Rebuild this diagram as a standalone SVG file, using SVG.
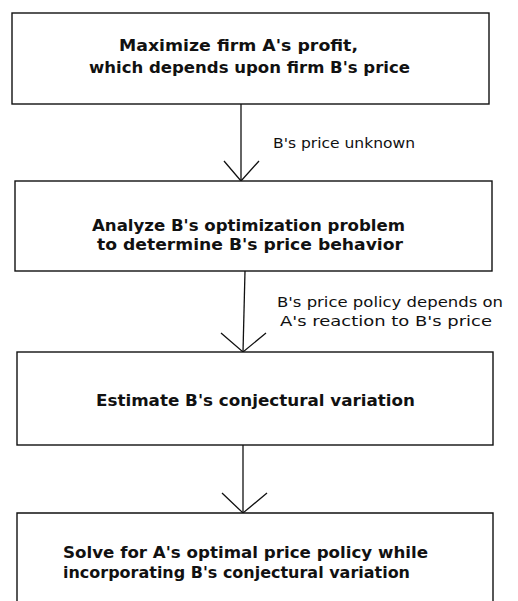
<svg xmlns="http://www.w3.org/2000/svg" width="518" height="601" viewBox="0 0 518 601">
<style>
.box{fill:#fff;stroke:#111;stroke-width:1.4}
.t{font-family:"DejaVu Sans","Liberation Sans",sans-serif;font-weight:bold;font-size:15px;fill:#111}
.l{font-family:"DejaVu Sans","Liberation Sans",sans-serif;font-size:14px;fill:#111}
.c{fill:none;stroke:#111;stroke-width:1.3}
</style>
<rect width="518" height="601" fill="#fff"/>
<g id="connectors">
<line class="c" x1="241" y1="104" x2="241" y2="181"/>
<polyline class="c" points="224,161 241,181 259,161"/>
<line class="c" x1="245" y1="271" x2="243" y2="352"/>
<polyline class="c" points="221,333 243,352 266,333"/>
<line class="c" x1="243" y1="445" x2="243" y2="513"/>
<polyline class="c" points="222,493 243,513 267,493"/>
<text class="l" x="273" y="148" textLength="142" lengthAdjust="spacingAndGlyphs">B's price unknown</text>
<text class="l" x="277" y="307" textLength="226" lengthAdjust="spacingAndGlyphs">B's price policy depends on</text>
<text class="l" x="280" y="326" textLength="212" lengthAdjust="spacingAndGlyphs">A's reaction to B's price</text>
</g>
<g id="node1">
<rect class="box" x="12" y="13" width="477" height="91"/>
<text class="t" x="119" y="51" textLength="239" lengthAdjust="spacingAndGlyphs">Maximize firm A's profit,</text>
<text class="t" x="89" y="73" textLength="321" lengthAdjust="spacingAndGlyphs">which depends upon firm B's price</text>
</g>
<g id="node2">
<rect class="box" x="15" y="181" width="477" height="90"/>
<text class="t" x="92" y="231" textLength="313" lengthAdjust="spacingAndGlyphs">Analyze B's optimization problem</text>
<text class="t" x="97" y="250" textLength="306" lengthAdjust="spacingAndGlyphs">to determine B's price behavior</text>
</g>
<g id="node3">
<rect class="box" x="17" y="352" width="476" height="93"/>
<text class="t" x="96" y="406" textLength="319" lengthAdjust="spacingAndGlyphs">Estimate B's conjectural variation</text>
</g>
<g id="node4">
<path class="box" d="M17,605 V513 H493 V605"/>
<text class="t" x="63" y="558" textLength="365" lengthAdjust="spacingAndGlyphs">Solve for A's optimal price policy while</text>
<text class="t" x="63" y="578" textLength="347" lengthAdjust="spacingAndGlyphs">incorporating B's conjectural variation</text>
</g>
</svg>
